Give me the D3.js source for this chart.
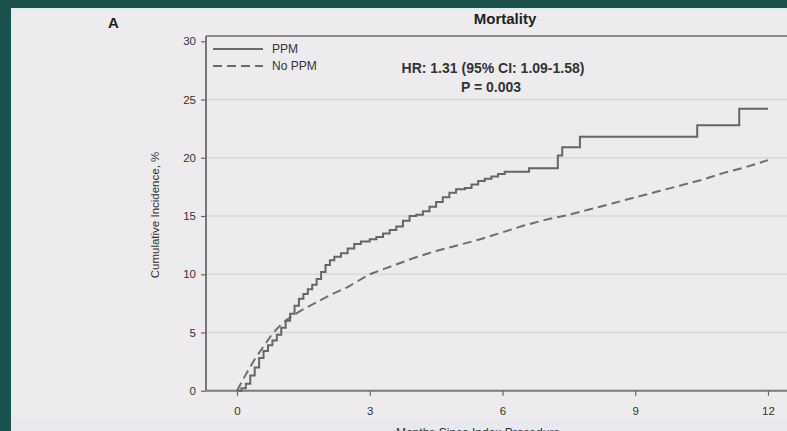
<!DOCTYPE html>
<html>
<head>
<meta charset="utf-8">
<script src="https://cdn.jsdelivr.net/npm/d3@7"></script>
<style>
  body { margin: 0; background: #1b5250; }
  svg { display: block; font-family: "Liberation Sans", Arial, sans-serif; }
</style>
</head>
<body>
<div id="chart"></div>
<script>
// months since index procedure / cumulative incidence (%)
var ppmMonths = [0, 0.1, 0.2, 0.3, 0.4, 0.5, 0.6, 0.7, 0.8, 0.9, 1.0, 1.1, 1.2, 1.3, 1.4, 1.5, 1.6, 1.7, 1.8, 1.9, 2.0, 2.1, 2.2, 2.35, 2.5, 2.65, 2.8, 3.0, 3.15, 3.3, 3.45, 3.6, 3.75, 3.9, 4.05, 4.2, 4.35, 4.5, 4.65, 4.8, 4.95, 5.15, 5.3, 5.45, 5.6, 5.75, 5.9, 6.05, 6.6, 7.25, 7.35, 7.75, 10.4, 11.35, 12.0];
var ppmValues = [0, 0.2, 0.6, 1.3, 2.0, 2.8, 3.4, 3.9, 4.3, 4.8, 5.4, 6.0, 6.6, 7.3, 7.9, 8.3, 8.7, 9.1, 9.6, 10.2, 10.8, 11.2, 11.5, 11.8, 12.2, 12.6, 12.8, 13.0, 13.2, 13.5, 13.8, 14.1, 14.6, 15.0, 15.1, 15.4, 15.8, 16.2, 16.6, 17.0, 17.3, 17.4, 17.7, 18.0, 18.2, 18.4, 18.6, 18.8, 19.1, 20.2, 20.9, 21.8, 22.8, 24.2, 24.2];

var noPpmMonths = [0, 0.2, 0.4, 0.6, 0.8, 1.0, 1.2, 1.5, 1.8, 2.1, 2.5, 3.0, 3.5, 4.0, 4.5, 5.0, 5.5, 6.0, 6.5, 7.0, 7.5, 8.0, 8.5, 9.0, 9.5, 10.0, 10.5, 11.0, 11.5, 12.0];
var noPpmValues = [0, 1.4, 2.7, 3.8, 4.9, 5.7, 6.3, 7.0, 7.6, 8.2, 8.9, 10.0, 10.7, 11.4, 12.0, 12.5, 13.0, 13.6, 14.2, 14.7, 15.1, 15.6, 16.1, 16.6, 17.1, 17.6, 18.1, 18.7, 19.2, 19.8];

var xTicks = [0, 3, 6, 9, 12];
var yTicks = [0, 5, 10, 15, 20, 25, 30];
var gridTicks = [5, 10, 15, 20, 25];

var width = 787, height = 431;

var svg = d3.select("#chart").append("svg")
  .attr("width", width)
  .attr("height", height);

// light panel on the teal background
svg.append("rect")
  .attr("x", 11).attr("y", 8)
  .attr("width", width).attr("height", height)
  .attr("fill", "#dceff0");
svg.append("rect")
  .attr("x", 13).attr("y", 10)
  .attr("width", width).attr("height", height)
  .attr("fill", "#edebed");
svg.append("rect")
  .attr("x", 13).attr("y", 419)
  .attr("width", width).attr("height", 20)
  .attr("fill", "#e7e9ee");

var x = d3.scaleLinear().domain([0, 12]).range([237, 768]);
var y = d3.scaleLinear().domain([0, 30]).range([390.7, 41.3]);

var axisX = 206, frameTop = 36;

// grid
svg.selectAll(".grid")
  .data(gridTicks)
  .enter().append("line")
    .attr("class", "grid")
    .attr("x1", axisX).attr("x2", width)
    .attr("y1", function(d) { return y(d); })
    .attr("y2", function(d) { return y(d); })
    .attr("stroke", "#d9d8da")
    .attr("stroke-width", 1.5);

// frame top line
svg.append("line")
  .attr("x1", axisX).attr("x2", width)
  .attr("y1", frameTop).attr("y2", frameTop)
  .attr("stroke", "#8c8c8c")
  .attr("stroke-width", 2);

// y axis
var yAxis = svg.append("g")
  .attr("transform", "translate(" + axisX + ",0)")
  .call(d3.axisLeft(y).tickValues(yTicks).tickSize(5).tickPadding(5));
yAxis.select(".domain")
  .attr("d", "M0," + frameTop + "V" + y(0))
  .attr("stroke", "#777").attr("stroke-width", 2);

// x axis
var xAxis = svg.append("g")
  .attr("transform", "translate(0," + y(0) + ")")
  .call(d3.axisBottom(x).tickValues(xTicks).tickSize(5).tickPadding(11));
xAxis.select(".domain")
  .attr("d", "M" + axisX + ",0H" + width)
  .attr("stroke", "#7a7a7a").attr("stroke-width", 2);

svg.selectAll(".tick line").attr("stroke", "#666").attr("stroke-width", 1.2);
svg.selectAll(".tick text")
  .attr("fill", "#333")
  .style("font-size", "11.5px");

// curves
var ppmLine = d3.line()
  .x(function(d) { return x(d[0]); })
  .y(function(d) { return y(d[1]); })
  .curve(d3.curveStepAfter);

var noPpmLine = d3.line()
  .x(function(d) { return x(d[0]); })
  .y(function(d) { return y(d[1]); });

svg.append("path")
  .datum(d3.zip(noPpmMonths, noPpmValues))
  .attr("d", noPpmLine)
  .attr("fill", "none")
  .attr("stroke", "#6e6e6e")
  .attr("stroke-width", 2)
  .attr("stroke-dasharray", "9,5");

svg.append("path")
  .datum(d3.zip(ppmMonths, ppmValues))
  .attr("d", ppmLine)
  .attr("fill", "none")
  .attr("stroke", "#666")
  .attr("stroke-width", 2);

// legend
var legend = [
  { name: "PPM", dash: null, y: 49 },
  { name: "No PPM", dash: "9,5", y: 66 }
];
var lg = svg.selectAll(".legend")
  .data(legend)
  .enter().append("g")
    .attr("class", "legend");
lg.append("line")
  .attr("x1", 213).attr("x2", 263)
  .attr("y1", function(d) { return d.y; })
  .attr("y2", function(d) { return d.y; })
  .attr("stroke", "#6a6a6a")
  .attr("stroke-width", 2)
  .attr("stroke-dasharray", function(d) { return d.dash; });
lg.append("text")
  .attr("x", 272)
  .attr("y", function(d) { return d.y + 4; })
  .attr("fill", "#333")
  .style("font-size", "12px")
  .text(function(d) { return d.name; });

// annotation
svg.append("text")
  .attr("x", 493).attr("y", 73)
  .attr("text-anchor", "middle")
  .attr("fill", "#333")
  .style("font-size", "14px")
  .style("font-weight", "bold")
  .text("HR: 1.31 (95% CI: 1.09-1.58)");
svg.append("text")
  .attr("x", 491).attr("y", 92)
  .attr("text-anchor", "middle")
  .attr("fill", "#333")
  .style("font-size", "14px")
  .style("font-weight", "bold")
  .text("P = 0.003");

// titles
svg.append("text")
  .attr("x", 505).attr("y", 24)
  .attr("text-anchor", "middle")
  .attr("fill", "#222")
  .style("font-size", "15px")
  .style("font-weight", "bold")
  .text("Mortality");

svg.append("text")
  .attr("x", 108).attr("y", 28)
  .attr("fill", "#222")
  .style("font-size", "15px")
  .style("font-weight", "bold")
  .text("A");

svg.append("text")
  .attr("transform", "translate(159,215) rotate(-90)")
  .attr("text-anchor", "middle")
  .attr("fill", "#333")
  .style("font-size", "11.5px")
  .text("Cumulative Incidence, %");

svg.append("text")
  .attr("x", 478).attr("y", 437)
  .attr("text-anchor", "middle")
  .attr("fill", "#333")
  .style("font-size", "12px")
  .text("Months Since Index Procedure");
</script>
</body>
</html>
